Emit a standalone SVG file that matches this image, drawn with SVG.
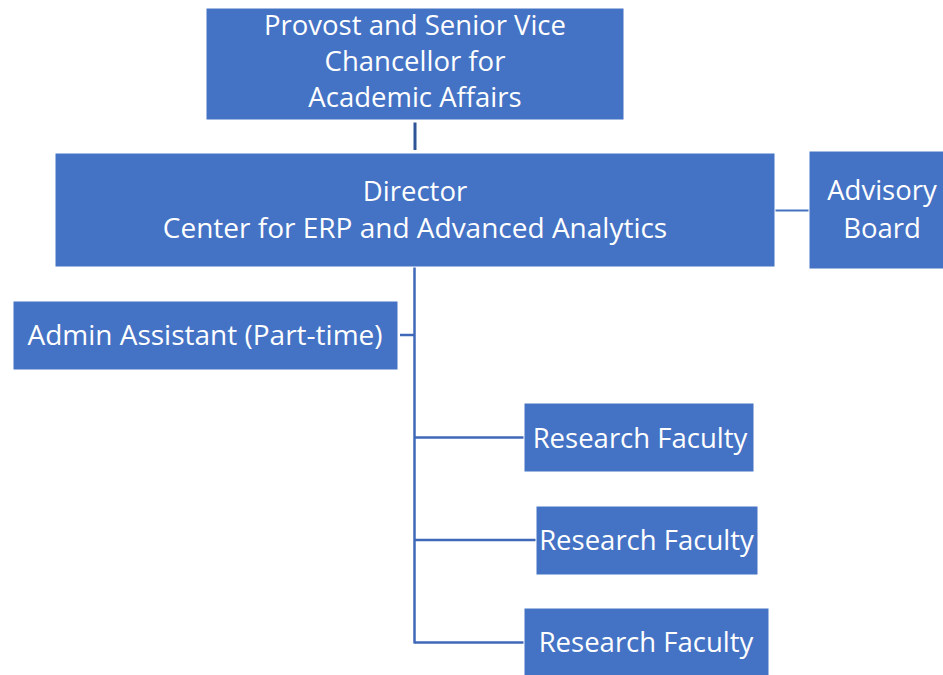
<svg xmlns="http://www.w3.org/2000/svg" width="943" height="675" viewBox="0 0 943 675">
<style>
.box{fill:#4472C4;stroke:#ffffff;stroke-width:1}
.t{font-family:"Open Sans","Liberation Sans",sans-serif;font-size:27.5px;fill:#ffffff;text-anchor:middle}
.c{stroke:#3F69B8;stroke-width:2.5;fill:none}
</style>
<rect width="943" height="675" fill="#ffffff"/>
<g id="connectors">
<line class="c" x1="415" y1="122.5" x2="415" y2="150" style="stroke:#2F5597;stroke-width:3"/>
<line class="c" x1="775" y1="210.5" x2="809" y2="210.5" style="stroke:#4472C4;stroke-width:2"/>
<line class="c" x1="414.5" y1="267" x2="414.5" y2="643.5"/>
<line class="c" x1="400" y1="335" x2="414.5" y2="335"/>
<line class="c" x1="414.5" y1="437.5" x2="524" y2="437.5"/>
<line class="c" x1="414.5" y1="540" x2="536" y2="540"/>
<line class="c" x1="414.5" y1="642.5" x2="524" y2="642.5"/>
</g>
<g id="provost">
<rect class="box" x="206" y="8" width="418" height="112"/>
<text class="t" x="415" y="34.5">Provost and Senior Vice</text>
<text class="t" x="415" y="71">Chancellor for</text>
<text class="t" x="415" y="107">Academic Affairs</text>
</g>
<g id="director">
<rect class="box" x="55" y="153" width="720" height="114"/>
<text class="t" x="415" y="200.5">Director</text>
<text class="t" x="415" y="238" style="font-size:28px">Center for ERP and Advanced Analytics</text>
</g>
<g id="advisory">
<rect class="box" x="809" y="151" width="146" height="118"/>
<text class="t" x="882" y="200">Advisory</text>
<text class="t" x="882" y="238">Board</text>
</g>
<g id="admin">
<rect class="box" x="13" y="301" width="385" height="69"/>
<text class="t" x="205" y="344.5" style="font-size:28px">Admin Assistant (Part-time)</text>
</g>
<g id="research1">
<rect class="box" x="524" y="403" width="230" height="69"/>
<text class="t" x="640" y="447.5">Research Faculty</text>
</g>
<g id="research2">
<rect class="box" x="536" y="506" width="222" height="69"/>
<text class="t" x="646.5" y="550">Research Faculty</text>
</g>
<g id="research3">
<rect class="box" x="524" y="608" width="245" height="72"/>
<text class="t" x="646" y="651.5">Research Faculty</text>
</g>
</svg>
